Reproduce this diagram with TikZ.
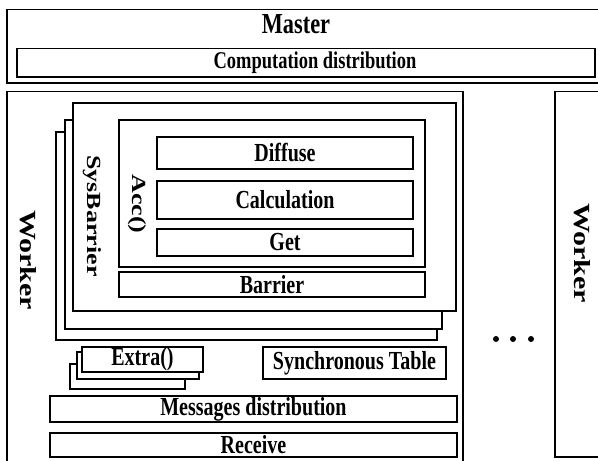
\documentclass[tikz,border=0pt]{standalone}
\usepackage{fontspec}
\usepackage{graphicx}
\setmainfont{Liberation Serif}[FakeStretch=0.77]
\newfontfamily\uprightserif{Liberation Serif}
% vertical labels: full-length letters, thinned across the line
\newcommand{\vlabel}[2]{{\uprightserif\bfseries\fontsize{#1}{#1}\selectfont\scalebox{1}[0.77]{#2}}}
\tikzset{
  box/.style={draw=black, line width=1.6pt, fill=white, inner sep=0pt, outer sep=0pt,
              font=\bfseries\fontsize{26}{28}\selectfont},
  vtext/.style={rotate=-90, inner sep=0pt},
}
\begin{document}
\begin{tikzpicture}[x=1pt, y=-1pt]
\useasboundingbox (0,0) rectangle (598,461);
\clip (0,0) rectangle (598,461);

% master part
\node[box, minimum width=613, minimum height=73.5] (master) at (313.5,46.25) {};
\node[inner sep=0pt, font=\bfseries\fontsize{29}{30}\selectfont] (mastertitle) at (296,24) {Master};
\node[box, minimum width=578, minimum height=28.5] (comp) at (306,62.75) {};
\node[inner sep=0pt, font=\bfseries\fontsize{24}{26}\selectfont] (comptext) at (315,63) {Computation distribution};

% worker frames
\node[box, minimum width=456, minimum height=388.5] (workerA) at (235,285.75) {};
\node[box, minimum width=85, minimum height=365.5] (workerB) at (597.5,274.25) {};
\node[vtext] (workerAlabel) at (28,260) {\vlabel{30}{Worker}};
\node[vtext] (workerBlabel) at (582,253) {\vlabel{30}{Worker}};

% stacked SysBarrier layers
\node[box, minimum width=381, minimum height=208] (sysC) at (246.5,236) {};
\node[box, minimum width=377, minimum height=209] (sysB) at (253.5,224.5) {};
\node[box, minimum width=383, minimum height=208] (sysA) at (264.5,207) {};
\node[vtext] (syslabel) at (92,216) {\vlabel{26}{SysBarrier}};

% Acc() block
\node[box, minimum width=306, minimum height=147] (acc) at (272,193.5) {};
\node[vtext] (acclabel) at (137,204) {\vlabel{26}{Acc()}};
\node[box, minimum width=256, minimum height=32] (diffuse) at (285,153) {Diffuse};
\node[box, minimum width=256, minimum height=38] (calc) at (285,200) {Calculation};
\node[box, minimum width=256, minimum height=27] (get) at (285,242.5) {Get};
\node[box, minimum width=306, minimum height=25] (barrier) at (272,284.5) {Barrier};

% stacked Extra() boxes
\node[box, minimum width=115, minimum height=25] (extraC) at (127.5,376.5) {};
\node[box, minimum width=122, minimum height=27] (extraB) at (138,365.5) {};
\node[box, minimum width=121, minimum height=25] (extraA) at (142.5,359.5) {Extra()};

\node[box, minimum width=183, minimum height=32] (sync) at (354.5,363) {Synchronous Table};
\node[box, minimum width=407, minimum height=26] (msg) at (253.5,409) {Messages distribution};
\node[box, minimum width=407, minimum height=24] (recv) at (253.5,445) {Receive};

% ellipsis between workers
\foreach \x in {496,513,531} \fill (\x,339) circle (3);
\end{tikzpicture}
\end{document}
